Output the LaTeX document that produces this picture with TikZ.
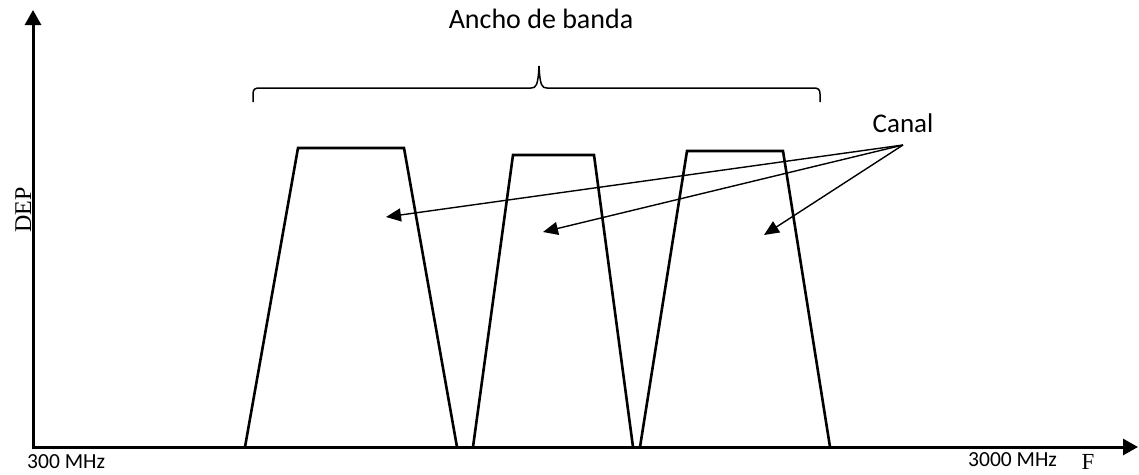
\documentclass[tikz,border=0pt]{standalone}
\usepackage{fontspec}
\setmainfont{Carlito}
\newfontfamily\serifx{Liberation Serif}
\usetikzlibrary{arrows.meta}
\begin{document}
\begin{tikzpicture}[x=1pt,y=-1pt,
  axis/.style={line width=3pt,-{Triangle[length=15pt,width=16pt]}},
  band/.style={line width=2.6pt,line join=miter},
  ptr/.style={line width=1.4pt,-{Triangle[length=15pt,width=13pt]}},
  bracestyle/.style={line width=1.5pt},
  lbl/.style={inner sep=0pt,font=\fontsize{28}{30}\selectfont},
  tick/.style={inner sep=0pt,font=\fontsize{21.5}{23}\selectfont}]
\useasboundingbox (0,0) rectangle (1139,474);
% axes
\coordinate (o) at (33,447);
\coordinate (ytop) at (33,10);
\coordinate (xend) at (1138,447);
\draw[axis] (o) -- (ytop);
\draw[axis] ([xshift=-1.5pt]o) -- (xend);
% bands
\draw[band] (245,447) -- (298,148) -- (404,148) -- (457,447);
\draw[band] (473,447) -- (513,155) -- (594,155) -- (633,447);
\draw[band] (640,447) -- (687,151) -- (783,151) -- (830,447);
% brace
\draw[bracestyle] (253,102) -- (253,94) .. controls (253,89) and (255,88) .. (260,88)
  -- (531,88) .. controls (536,88) and (538,86) .. (539,66)
  .. controls (540,86) and (542,88) .. (547,88)
  -- (813,88) .. controls (818,88) and (820,89) .. (820,94) -- (820,102);
% labels
\node[lbl,anchor=base] (bw) at (541,28) {Ancho de banda};
\node[lbl,anchor=base,font=\fontsize{27}{29}\selectfont] (canal) at (903,132) {Canal};
\node[tick,anchor=base west] (f1) at (27,468) {300 MHz};
\node[tick,anchor=base west] (f2) at (968,466) {3000 MHz};
\node[inner sep=0pt,anchor=base,font=\serifx\fontsize{23}{25}\selectfont] (F) at (1088,469.5) {F};
\node[inner sep=0pt,anchor=base,rotate=90,font=\serifx\fontsize{24}{26}\selectfont] (dep) at (31,210) {DEP};
% pointers
\coordinate (c0) at (903,145);
\coordinate (t1) at (386,217);
\coordinate (t2) at (543,232);
\coordinate (t3) at (764,235);
\draw[ptr] (c0) -- (t1);
\draw[ptr] (c0) -- (t2);
\draw[ptr] (c0) -- (t3);
\end{tikzpicture}
\end{document}
